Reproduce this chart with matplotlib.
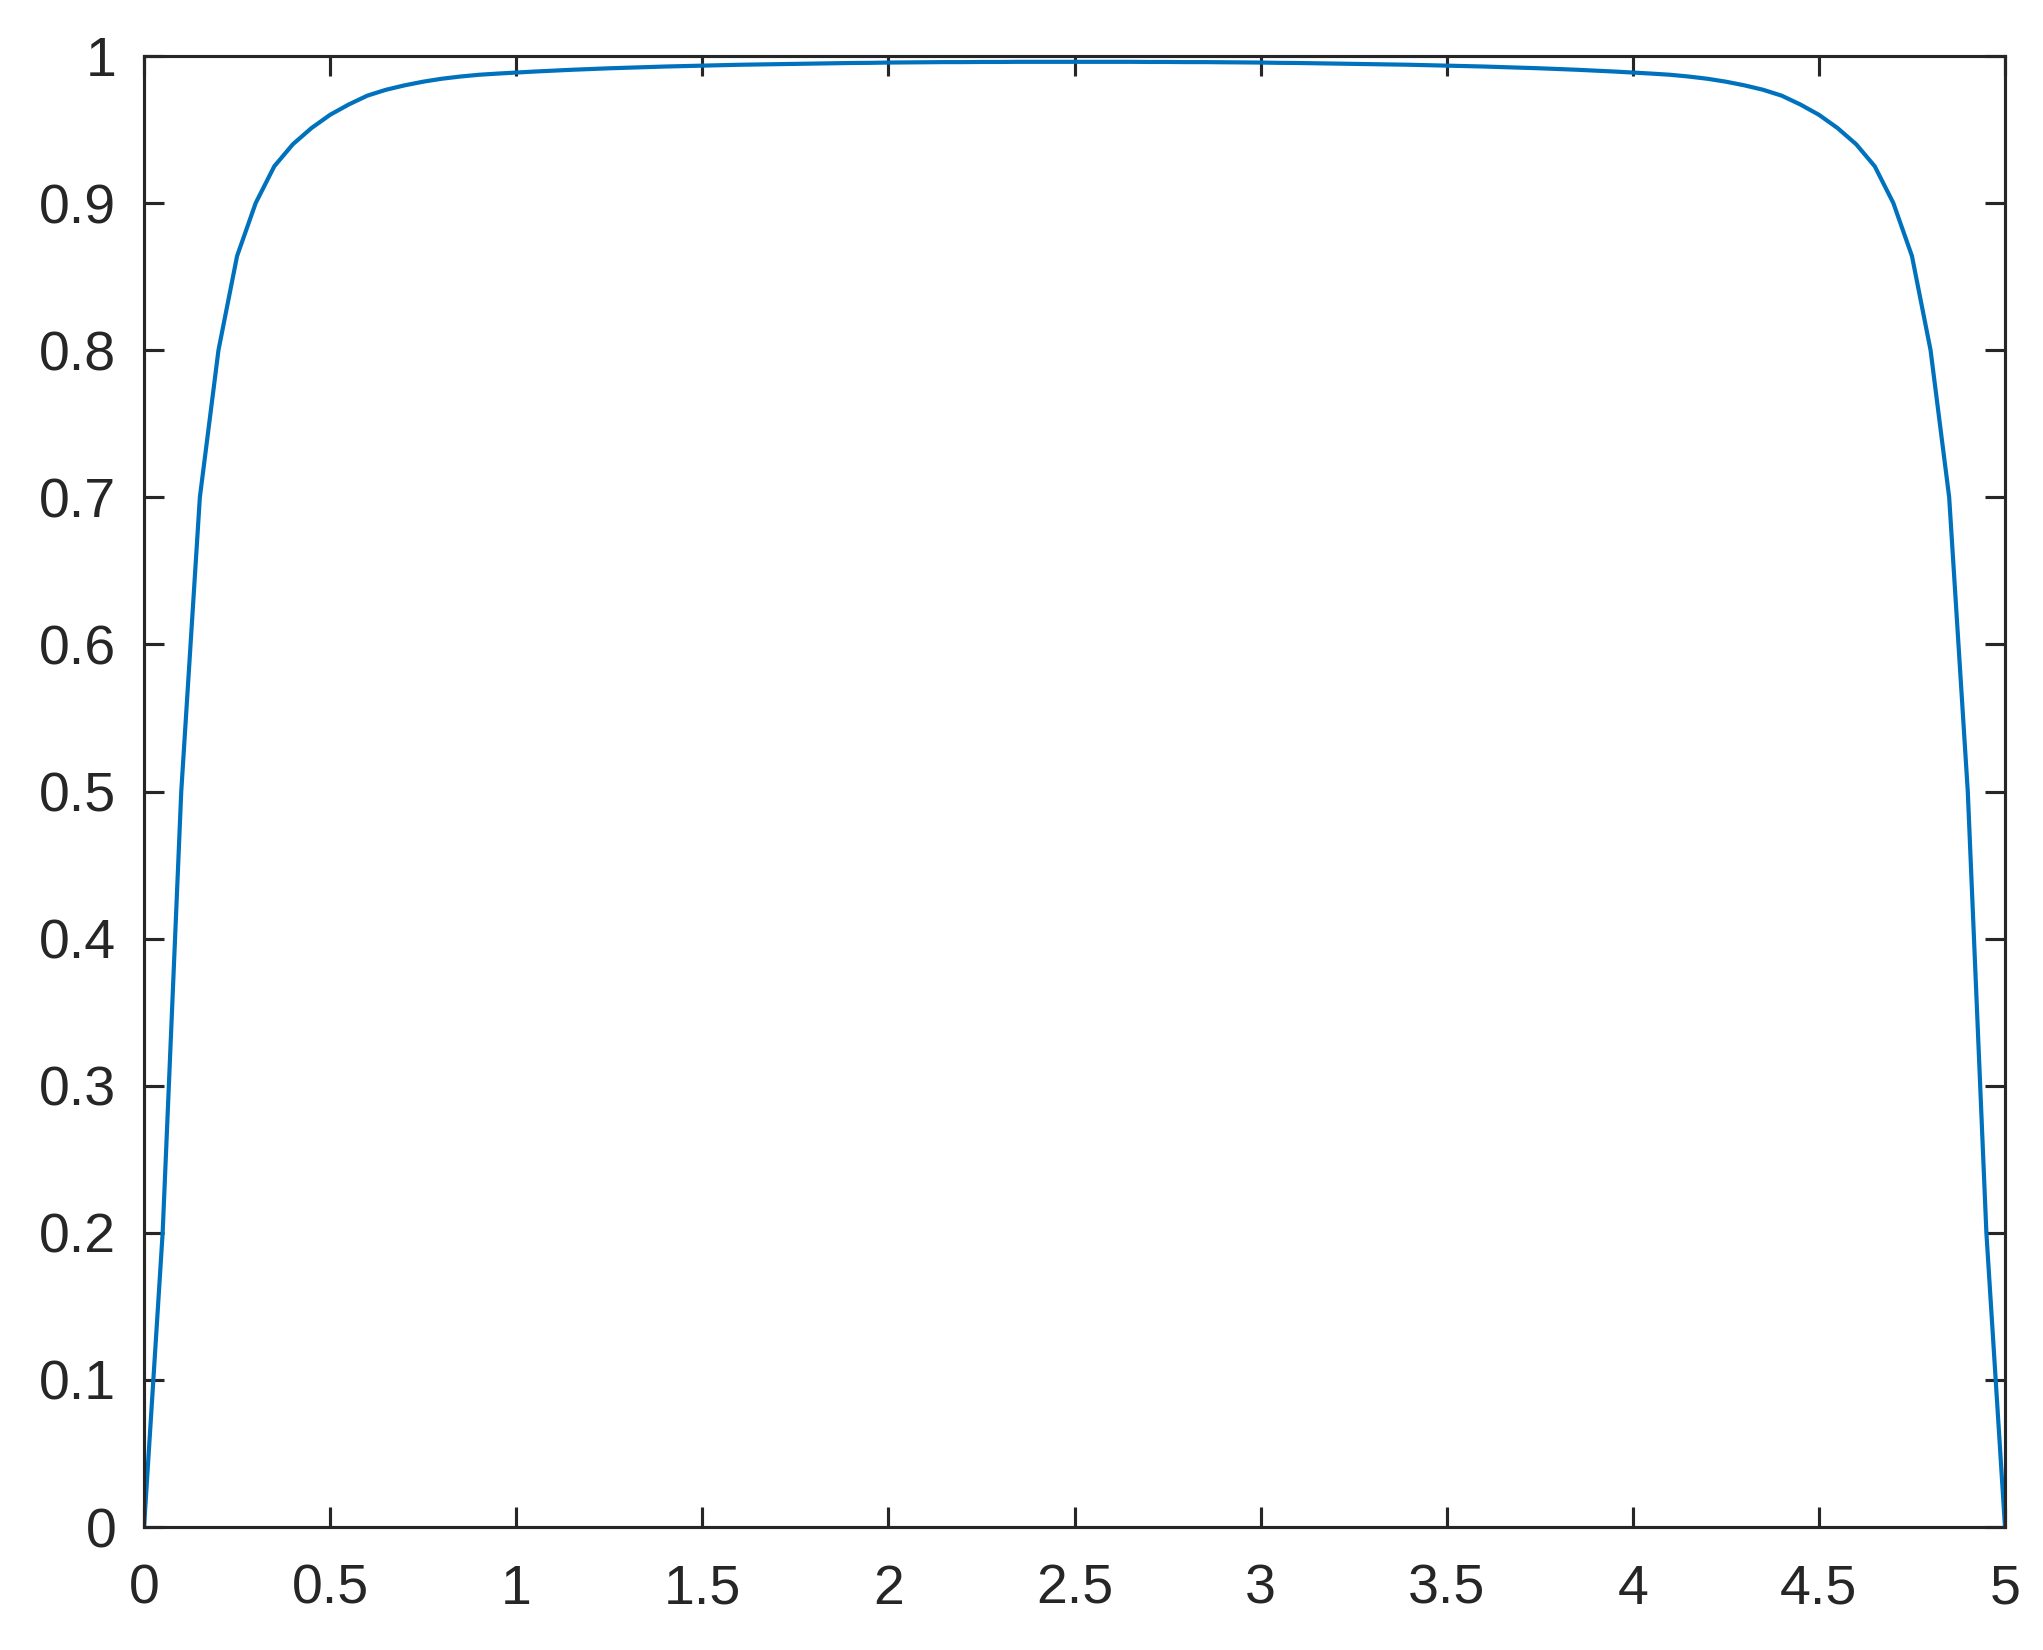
import matplotlib
matplotlib.use("Agg")
import matplotlib.pyplot as plt

# sampled curve, step 0.05 on [0, 5]
x = [
    0.00, 0.05, 0.10, 0.15, 0.20, 0.25, 0.30, 0.35, 0.40, 0.45,
    0.50, 0.55, 0.60, 0.65, 0.70, 0.75, 0.80, 0.85, 0.90, 0.95,
    1.00, 1.05, 1.10, 1.15, 1.20, 1.25, 1.30, 1.35, 1.40, 1.45,
    1.50, 1.55, 1.60, 1.65, 1.70, 1.75, 1.80, 1.85, 1.90, 1.95,
    2.00, 2.05, 2.10, 2.15, 2.20, 2.25, 2.30, 2.35, 2.40, 2.45,
    2.50, 2.55, 2.60, 2.65, 2.70, 2.75, 2.80, 2.85, 2.90, 2.95,
    3.00, 3.05, 3.10, 3.15, 3.20, 3.25, 3.30, 3.35, 3.40, 3.45,
    3.50, 3.55, 3.60, 3.65, 3.70, 3.75, 3.80, 3.85, 3.90, 3.95,
    4.00, 4.05, 4.10, 4.15, 4.20, 4.25, 4.30, 4.35, 4.40, 4.45,
    4.50, 4.55, 4.60, 4.65, 4.70, 4.75, 4.80, 4.85, 4.90, 4.95,
    5.00,
]
y = [
    0.000, 0.200, 0.500, 0.700, 0.800, 0.864, 0.900, 0.925, 0.940, 0.951,
    0.960, 0.967, 0.973, 0.977, 0.980, 0.9825, 0.9845, 0.986, 0.9872, 0.988,
    0.9887, 0.9894, 0.9900, 0.9906, 0.9911, 0.9916, 0.9920, 0.9924, 0.9928, 0.9931,
    0.9934, 0.9937, 0.9940, 0.9942, 0.9944, 0.9946, 0.9948, 0.9950, 0.9952, 0.9953,
    0.9955, 0.9956, 0.9957, 0.9958, 0.9958, 0.9959, 0.9959, 0.9960, 0.9960, 0.9960,
    0.9960, 0.9960, 0.9960, 0.9960, 0.9959, 0.9959, 0.9958, 0.9958, 0.9957, 0.9956,
    0.9955, 0.9953, 0.9952, 0.9950, 0.9948, 0.9946, 0.9944, 0.9942, 0.9940, 0.9937,
    0.9934, 0.9931, 0.9928, 0.9924, 0.9920, 0.9916, 0.9911, 0.9906, 0.9900, 0.9894,
    0.9887, 0.988, 0.9872, 0.986, 0.9845, 0.9825, 0.980, 0.977, 0.973, 0.967,
    0.960, 0.951, 0.940, 0.925, 0.900, 0.864, 0.800, 0.700, 0.500, 0.200,
    0.000,
]

xticks = [0, 0.5, 1, 1.5, 2, 2.5, 3, 3.5, 4, 4.5, 5]
xticklabels = ["0", "0.5", "1", "1.5", "2", "2.5", "3", "3.5", "4", "4.5", "5"]
yticks = [0, 0.1, 0.2, 0.3, 0.4, 0.5, 0.6, 0.7, 0.8, 0.9, 1]
yticklabels = ["0", "0.1", "0.2", "0.3", "0.4", "0.5", "0.6", "0.7", "0.8", "0.9", "1"]


def main():
    plt.rcParams["font.family"] = ["Liberation Sans", "DejaVu Sans"]
    axcol = "#262626"

    fig = plt.figure(figsize=(8.172, 6.6), dpi=250)
    ax = fig.add_axes([0.0705, 0.0745, 0.9109, 0.8916])

    ax.plot(x, y, color="#0072BD", linewidth=1.2)

    ax.set_xlim(0, 5)
    ax.set_ylim(0, 1)
    ax.set_xticks(xticks)
    ax.set_xticklabels(xticklabels)
    ax.set_yticks(yticks)
    ax.set_yticklabels(yticklabels)

    for s in ax.spines.values():
        s.set_color(axcol)
        s.set_linewidth(0.9)
    ax.tick_params(axis="both", direction="in", length=5.8, width=0.9,
                   colors=axcol, labelsize=16, top=True, right=True)
    ax.tick_params(axis="x", pad=10.5)
    ax.tick_params(axis="y", pad=8)

    fig.savefig("out.png", dpi=250)
    plt.close(fig)


if __name__ == "__main__":
    main()
